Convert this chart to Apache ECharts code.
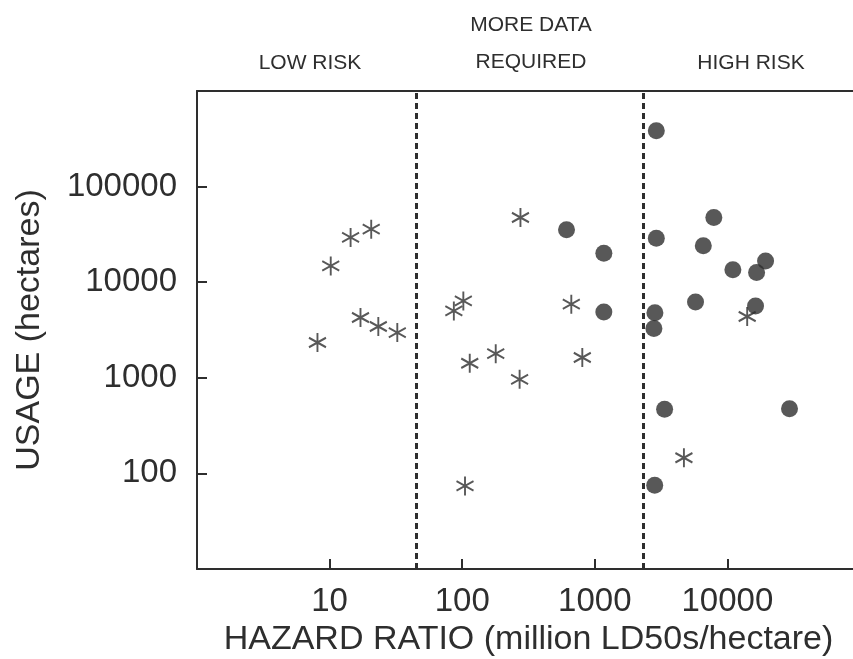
<!DOCTYPE html>
<html>
<head>
<meta charset="utf-8">
<script src="https://cdn.jsdelivr.net/npm/echarts@6/dist/echarts.min.js"></script>
<style>
  html, body { margin: 0; padding: 0; background: #fff; }
  #chart { width: 853px; height: 659px; }
</style>
</head>
<body>
<div id="chart"></div>
<script>
// Pesticides: hazard ratio vs. usage, both on log scales.
// Asterisks and filled dots are the two groups of products.
const starHazard = [8.1, 10.2, 14.4, 20.6, 17.1, 23.3, 32.4,
                    86.5, 102, 275, 665, 114, 179, 271, 805, 105,
                    14100, 4700];
const starUsage  = [2340, 14800, 29400, 35900, 4270, 3440, 2970,
                    5010, 6370, 47500, 5890, 1420, 1790, 964, 1630, 74,
                    4370, 146];

const dotHazard = [2910, 612, 1170, 2910, 7900, 6580, 11000, 19400, 16600,
                   1170, 5750, 16300, 2840, 2790, 3360, 29400, 2830];
const dotUsage  = [384000, 35300, 20100, 28900, 47500, 24000, 13500, 16700, 12600,
                   4890, 6220, 5650, 4800, 3270, 468, 475, 75];

// Risk class boundaries on the hazard ratio axis
const boundaries = [45, 2320];
const zoneLabels = ['LOW RISK', 'MORE DATA\nREQUIRED', 'HIGH RISK'];

const xTickLabels = ['10', '100', '1000', '10000'];
const yTickLabels = ['100', '1000', '10000', '100000'];

const ink = '#2e2e2e';
const font = '"Liberation Sans", Arial, Helvetica, sans-serif';

const toPairs = (xs, ys) => xs.map((x, i) => [x, ys[i]]);
const pick = list => v => {
  const s = String(Math.round(v));
  return list.includes(s) ? s : '';
};

const frameLine = { show: true, lineStyle: { color: ink, width: 2 } };
const hazardScale = { type: 'log', logBase: 10, min: 1, max: 100000, interval: 1 };

const chart = echarts.init(document.getElementById('chart'), null, { renderer: 'canvas' });

chart.setOption({
  animation: false,
  backgroundColor: '#fff',
  grid: {
    left: 197, top: 91, width: 663, height: 478,
    containLabel: false, outerBoundsMode: 'none', show: false
  },
  xAxis: [
    Object.assign({}, hazardScale, {
      position: 'bottom',
      name: 'HAZARD RATIO (million LD50s/hectare)',
      nameLocation: 'middle', nameGap: 51,
      nameTextStyle: { fontFamily: font, fontSize: 34, color: ink },
      axisLine: frameLine,
      axisTick: { show: true, inside: true, length: 10, lineStyle: { color: ink, width: 2 } },
      minorTick: { show: false },
      splitLine: { show: false },
      axisLabel: { formatter: pick(xTickLabels), fontFamily: font, fontSize: 33, color: ink, margin: 16 }
    }),
    // top edge of the frame
    Object.assign({}, hazardScale, {
      position: 'top',
      axisLine: frameLine,
      axisTick: { show: false },
      minorTick: { show: false },
      splitLine: { show: false },
      axisLabel: { show: false }
    })
  ],
  yAxis: {
    type: 'log', logBase: 10, min: 10, max: 1000000, interval: 1,
    name: 'USAGE (hectares)',
    nameLocation: 'middle', nameGap: 150,
    nameTextStyle: { fontFamily: font, fontSize: 34, color: ink },
    axisLine: frameLine,
    axisTick: { show: true, inside: true, length: 10, lineStyle: { color: ink, width: 2 } },
    minorTick: { show: false },
    splitLine: { show: false },
    axisLabel: { formatter: pick(yTickLabels), fontFamily: font, fontSize: 33, color: ink, margin: 20 }
  },
  graphic: [
    { type: 'text', x: 310, y: 63, style: { text: zoneLabels[0], fontFamily: font, fontSize: 21, fill: ink, align: 'center', verticalAlign: 'middle' } },
    { type: 'text', x: 531, y: 44, style: { text: zoneLabels[1], fontFamily: font, fontSize: 21, lineHeight: 37, fill: ink, align: 'center', verticalAlign: 'middle' } },
    { type: 'text', x: 751, y: 63, style: { text: zoneLabels[2], fontFamily: font, fontSize: 21, fill: ink, align: 'center', verticalAlign: 'middle' } }
  ],
  series: [
    {
      type: 'scatter',
      data: toPairs(starHazard, starUsage),
      symbol: 'path://M10,0L10,20M1.34,5L18.66,15M1.34,15L18.66,5',
      symbolSize: [17, 19],
      itemStyle: { color: 'transparent', borderColor: ink, borderWidth: 2 },
      markLine: {
        silent: true,
        symbol: ['none', 'none'],
        label: { show: false },
        lineStyle: { color: ink, width: 3, type: [6, 4] },
        data: boundaries.map(b => ({ xAxis: b }))
      }
    },
    {
      type: 'scatter',
      data: toPairs(dotHazard, dotUsage),
      symbol: 'circle',
      symbolSize: 17,
      itemStyle: { color: ink }
    }
  ]
});
</script>
</body>
</html>
